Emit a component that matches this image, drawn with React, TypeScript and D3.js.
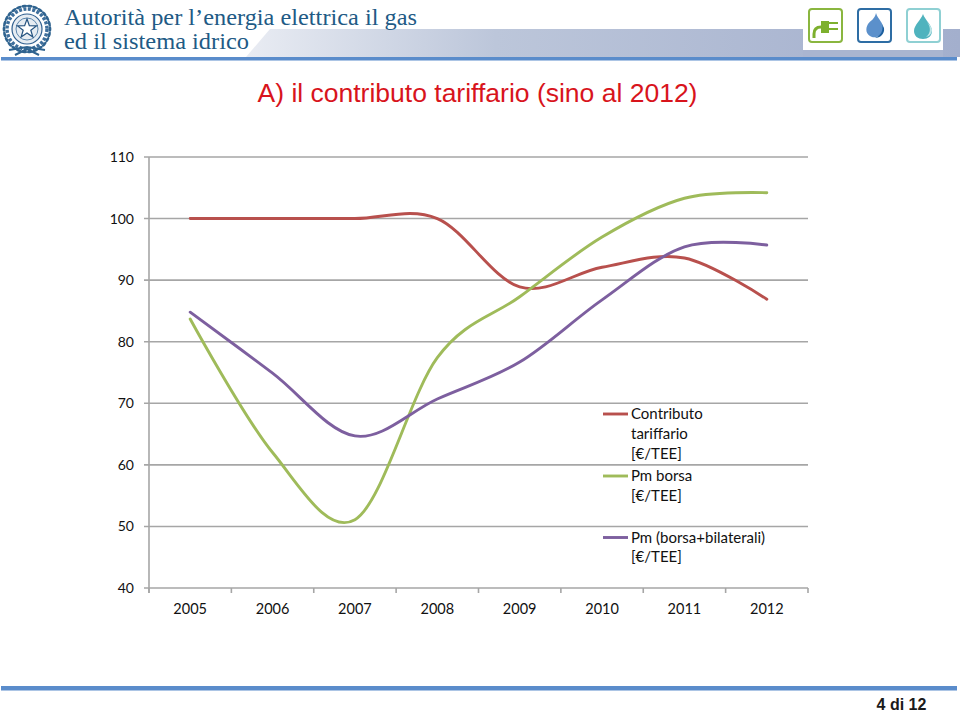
import React from "react";
import * as d3 from "d3";

const years = ["2005", "2006", "2007", "2008", "2009", "2010", "2011", "2012"];
const yTicks = [40, 50, 60, 70, 80, 90, 100, 110];
const contributo = [100, 100, 100, 100, 88.9, 92.1, 93.6, 86.9];
const borsa = [83.7, 62, 51.1, 77.4, 87.3, 97, 103.3, 104.2];
const bilaterali = [84.8, 74.9, 64.7, 70.7, 76.7, 86.8, 95.4, 95.7];
const seriesColors = ["#b8504d", "#9fbb5a", "#7d5f9f"];
const legendRows = [
  { lines: ["Contributo", "tariffario", "[€/TEE]"], color: seriesColors[0], y: 414 },
  { lines: ["Pm borsa", "[€/TEE]"], color: seriesColors[1], y: 476 },
  { lines: ["Pm (borsa+bilaterali)", "[€/TEE]"], color: seriesColors[2], y: 537.5 },
];

const x = d3.scaleBand<string>().domain(years).range([149, 808]);
const y = d3.scaleLinear().domain([40, 110]).range([588, 157]);
const line = d3
  .line<number>()
  .x((_, i) => (x(years[i]) as number) + x.bandwidth() / 2)
  .y((d) => y(d))
  .curve(d3.curveCardinal.tension(0));

const chartFont = "Lato, 'Open Sans', sans-serif";
const wreath = d3.range(0, 26);

function Emblem() {
  return (
    <g transform="translate(27,29)">
      <circle r="20" fill="none" stroke="#3f6f9c" strokeWidth="3.5" strokeDasharray="3 1.5" />
      <circle r="15" fill="#e6ecf2" stroke="#2f5f8f" strokeWidth="1.2" />
      <circle r="11" fill="none" stroke="#5b86ad" strokeWidth="1" />
      <path
        d={d3.range(0, 10).map((i) => {
          const r = i % 2 ? 4 : 10;
          const a = (i * Math.PI) / 5 - Math.PI / 2;
          return `${i ? "L" : "M"}${r * Math.cos(a)},${r * Math.sin(a)}`;
        }).join("") + "Z"}
        fill="#fff"
        stroke="#24527f"
        strokeWidth="1.2"
      />
      {wreath.map((i) => {
        const a = (i * Math.PI * 2) / wreath.length;
        return (
          <ellipse
            key={i}
            cx={23 * Math.cos(a)}
            cy={23 * Math.sin(a)}
            rx="3"
            ry="1.4"
            fill="#2f638f"
            transform={`rotate(${(a * 180) / Math.PI + 90} ${23 * Math.cos(a)} ${23 * Math.sin(a)})`}
          />
        );
      })}
      <path d="M-18,21 L0,18 L18,21 M-12,26 L0,20 L12,26" fill="none" stroke="#2f638f" strokeWidth="2" />
    </g>
  );
}

function Header() {
  return (
    <g>
      <defs>
        <linearGradient id="band" x1="0" x2="1" y1="0" y2="0">
          <stop offset="0" stopColor="#e9ecf3" />
          <stop offset="0.35" stopColor="#bcc6da" />
          <stop offset="1" stopColor="#a3afcd" />
        </linearGradient>
      </defs>
      <path d="M246,57 L270,29 L960,29 L960,57 Z" fill="url(#band)" />
      <rect x="803" y="20" width="140" height="30" fill="#fff" />
      <rect x="803" y="50" width="140" height="7" fill="#aab5d0" />
      <rect x="1" y="57" width="956" height="3.5" fill="#5a8ccb" />
      <Emblem />
      <g fontFamily="'Liberation Serif', serif" fontSize="24" fill="#215a85">
        <text x="64" y="25" textLength="353" lengthAdjust="spacingAndGlyphs">Autorità per l’energia elettrica il gas</text>
        <text x="64" y="49" textLength="185" lengthAdjust="spacingAndGlyphs">ed il sistema idrico</text>
      </g>
      <g fill="none" strokeWidth="2">
        <rect x="809" y="9" width="33" height="33" rx="3" stroke="#8ab63f" />
        <rect x="858" y="9" width="33" height="33" rx="3" stroke="#2e6da4" />
        <rect x="907" y="9" width="33" height="33" rx="3" stroke="#8fd0d3" />
      </g>
      <path d="M814,38 V34 Q814,27 821,27" fill="none" stroke="#7db02e" strokeWidth="3" />
      <path d="M821,21 H829 V19.5 H829 V33 H821 Z" fill="#7db02e" />
      <path d="M829,23 H838 M829,29 H838" stroke="#7db02e" strokeWidth="2" />
      <path d="M876,13 C878,20 884,22 883,30 C882,36 876,38 872,37 C866,35 865,29 868,24 C870,21 875,19 876,13 Z" fill="#5b90cb" />
      <path d="M882,24 C884,31 880,36 875,38 C880,38 885,34 884,28 Z" fill="#1c5f9e" />
      <path d="M923,14 C925,20 932,25 932,31 C932,36 928,39 923,39 C918,39 914,36 914,31 C914,25 921,20 923,14 Z" fill="#4fb3be" />
      <path d="M927,22 C931,27 931,33 926,37 C930,36 932,33 932,30 C932,27 929,24 927,22 Z" fill="#bfe6e8" />
    </g>
  );
}

export default function App() {
  const seriesList = [contributo, borsa, bilaterali];
  return (
    <svg
      width={960}
      height={712}
      viewBox="0 0 960 712"
      style={{ position: "absolute", left: 0, top: 0, background: "#fff" }}
    >
      <Header />
      <text x="477.5" y="102" textAnchor="middle" fontFamily="'Liberation Sans', sans-serif" fontSize="26.5" fill="#d8141c">
        A) il contributo tariffario (sino al 2012)
      </text>

      <g stroke="#a6a6a6" strokeWidth="1.6" fill="none">
        {yTicks.map((t) => (
          <line key={t} x1={144} x2={808} y1={y(t)} y2={y(t)} />
        ))}
        <line x1={149} x2={149} y1={157} y2={593} />
        {[...years.map((c) => x(c) as number), 808].map((p, i) => (
          <line key={i} x1={p} x2={p} y1={588} y2={593} />
        ))}
      </g>

      <g fontFamily={chartFont} fontSize="14.5" fill="#111">
        {yTicks.map((t) => (
          <text key={t} x={134} y={y(t) + 5} textAnchor="end" fontSize="14">{t}</text>
        ))}
        {years.map((c) => (
          <text key={c} x={(x(c) as number) + x.bandwidth() / 2} y={614} textAnchor="middle">{c}</text>
        ))}
      </g>

      <g fill="none" strokeWidth="2.9" strokeLinecap="round">
        {seriesList.map((s, i) => (
          <path key={i} d={line(s) as string} stroke={seriesColors[i]} />
        ))}
      </g>

      <g fontFamily={chartFont} fontSize="15" fill="#111">
        {legendRows.map((r) => (
          <g key={r.y}>
            <line x1={603} x2={628} y1={r.y} y2={r.y} stroke={r.color} strokeWidth="2.9" />
            {r.lines.map((l, i) => (
              <text key={l} x={631} y={r.y + 5 + i * 19.8}>{l}</text>
            ))}
          </g>
        ))}
      </g>

      <rect x="1" y="686" width="956" height="4.5" fill="#5a8ccb" />
      <text x="901.5" y="710" textAnchor="middle" fontFamily="'Liberation Sans', sans-serif" fontWeight="bold" fontSize="16" fill="#1a1a1a">
        4 di 12
      </text>
    </svg>
  );
}
